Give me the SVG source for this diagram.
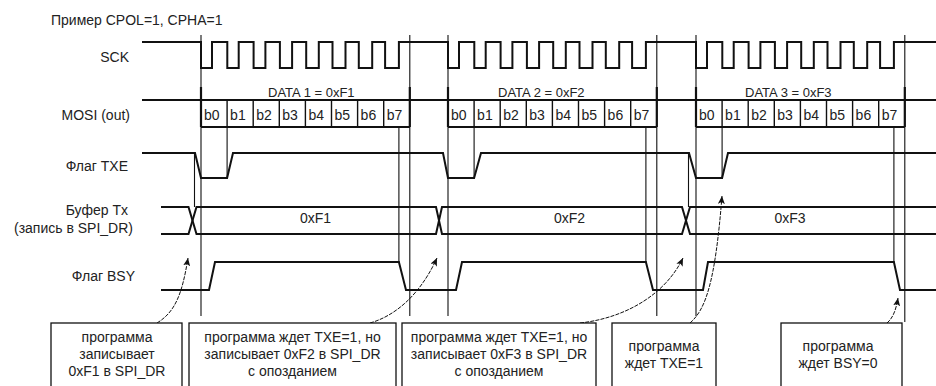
<svg xmlns="http://www.w3.org/2000/svg" width="936" height="386" viewBox="0 0 936 386">
<style>
text{font-family:"Liberation Sans",Arial,sans-serif;fill:#222;font-size:14px}
.lbl{text-anchor:end}
.mid{text-anchor:middle}
.sig{fill:none;stroke:#111;stroke-width:2}
.thin{fill:none;stroke:#111;stroke-width:1.1}
.div{fill:none;stroke:#111;stroke-width:1.4}
.bnd{fill:none;stroke:#111;stroke-width:2.2}
.box{fill:#fff;stroke:#111;stroke-width:1.3}
.arr{fill:none;stroke:#111;stroke-width:1;stroke-dasharray:4 1.2}
.dt{font-size:13px}
</style>
<defs>
<marker id="ah" markerUnits="userSpaceOnUse" markerWidth="9" markerHeight="7" refX="8" refY="3.5" orient="auto">
<path d="M0,0 L8,3.5 L0,7 L2,3.5 z" fill="#111"/>
</marker>
</defs>
<rect width="936" height="386" fill="#fff"/>

<text x="51" y="25">Пример CPOL=1, CPHA=1</text>

<g id="labels">
<text class="lbl" x="129" y="62">SCK</text>
<text class="lbl" x="130" y="120">MOSI (out)</text>
<text class="lbl" x="128" y="171">Флаг TXE</text>
<text class="lbl" x="128" y="215">Буфер Tx</text>
<text class="lbl" x="133" y="233">(запись в SPI_DR)</text>
<text class="lbl" x="135" y="281">Флаг BSY</text>
</g>

<g id="guides">
<path class="thin" d="M201,35 V316 M409.8,35 V316 M448,35 V316 M656.8,35 V316 M696,35 V316 M904.8,35 V322"/>
<path class="thin" d="M227.1,127 V178 M474.1,127 V178 M722.1,127 V178"/>
<path class="thin" d="M398.9,127 V262 M645.9,127 V262 M893.9,127 V262"/>
<path class="thin" d="M194.5,153 V207 M688.5,153 V207"/>
</g>

<g id="sck">
<path class="sig" d="M142,42 H201 V68 H212 V42 H227.3 V68 H238.7 V42 H253.6 V68 H265.4 V42 H279.9 V68 H292.1 V42 H306.2 V68 H318.8 V42 H332.5 V68 H345.5 V42 H358.8 V68 H372.2 V42 H385.1 V68 H398.9 V42 H448 V68 H459 V42 H474.3 V68 H485.7 V42 H500.6 V68 H512.4 V42 H526.9 V68 H539.1 V42 H553.2 V68 H565.8 V42 H579.5 V68 H592.5 V42 H605.8 V68 H619.2 V42 H632.1 V68 H645.9 V42 H696 V68 H707 V42 H722.3 V68 H733.7 V42 H748.6 V68 H760.4 V42 H774.9 V68 H787.1 V42 H801.2 V68 H813.8 V42 H827.5 V68 H840.5 V42 H853.8 V68 H867.2 V42 H880.1 V68 H893.9 V42 H936"/>
</g>

<g id="mosi">
<path class="sig" d="M142,100 H936 M201,127 H409.8 M448,127 H656.8 M696,127 H904.8"/>
<path class="bnd" d="M201,87 V127 M409.8,87 V127 M448,87 V127 M656.8,87 V127 M696,87 V127 M904.8,87 V127"/>
<path class="div" d="M227.1,100 V127 M253.2,100 V127 M279.3,100 V127 M305.4,100 V127 M331.5,100 V127 M357.6,100 V127 M383.7,100 V127
M474.1,100 V127 M500.2,100 V127 M526.3,100 V127 M552.4,100 V127 M578.5,100 V127 M604.6,100 V127 M630.7,100 V127
M722.1,100 V127 M748.2,100 V127 M774.3,100 V127 M800.4,100 V127 M826.5,100 V127 M852.6,100 V127 M878.7,100 V127"/>
<text class="dt" x="268" y="97">DATA 1 = 0xF1</text>
<text class="dt" x="498" y="97">DATA 2 = 0xF2</text>
<text class="dt" x="745" y="97">DATA 3 = 0xF3</text>
<text x="204" y="120">b0</text><text x="230.1" y="120">b1</text><text x="256.2" y="120">b2</text><text x="282.3" y="120">b3</text><text x="308.4" y="120">b4</text><text x="334.5" y="120">b5</text><text x="360.6" y="120">b6</text><text x="386.7" y="120">b7</text>
<text x="451" y="120">b0</text><text x="477.1" y="120">b1</text><text x="503.2" y="120">b2</text><text x="529.3" y="120">b3</text><text x="555.4" y="120">b4</text><text x="581.5" y="120">b5</text><text x="607.6" y="120">b6</text><text x="633.7" y="120">b7</text>
<text x="699" y="120">b0</text><text x="725.1" y="120">b1</text><text x="751.2" y="120">b2</text><text x="777.3" y="120">b3</text><text x="803.4" y="120">b4</text><text x="829.5" y="120">b5</text><text x="855.6" y="120">b6</text><text x="881.7" y="120">b7</text>
</g>

<g id="txe">
<path class="sig" d="M142,153 H195 L201,178 H227.1 L233,153 H443 L448,178 H474.1 L481,153 H689 L696,178 H722.1 L728,153 H936"/>
</g>

<g id="buffer">
<path class="sig" d="M161,207 H188.5 L196.5,234 H436 L442,207 H682 L690,234 H936"/>
<path class="sig" d="M161,234 H188.5 L196.5,207 H436 L442,234 H682 L690,207 H936"/>
<text class="mid" x="315.5" y="223">0xF1</text>
<text class="mid" x="569.5" y="223">0xF2</text>
<text class="mid" x="790" y="223">0xF3</text>
</g>

<g id="bsy">
<path class="sig" d="M161,290 H209 L215,262 H398.9 L406,290 H456 L462,262 H645.9 L653,290 H703 L708,262 H893.9 L900,290 H936"/>
</g>

<g id="connectors">
<path class="arr" marker-end="url(#ah)" d="M157,323 C175,312 182,295 188,258"/>
<path class="arr" marker-end="url(#ah)" d="M370,323 C395,316 420,295 437,258"/>
<path class="arr" marker-end="url(#ah)" d="M580,323 C625,318 665,295 683,258"/>
<path class="arr" marker-end="url(#ah)" d="M690,323 C705,310 715,285 722,196"/>
<path class="arr" marker-end="url(#ah)" d="M887,323 C893,318 896,310 898,298"/>
</g>

<g id="box1">
<rect class="box" x="51" y="323" width="131" height="80"/>
<text class="mid" x="117" y="342">программа</text>
<text class="mid" x="117" y="359">записывает</text>
<text class="mid" x="117" y="376">0xF1 в SPI_DR</text>
</g>
<g id="box2">
<rect class="box" x="189" y="323" width="207" height="80"/>
<text class="mid" x="292.5" y="342">программа ждет TXE=1, но</text>
<text class="mid" x="292.5" y="359">записывает 0xF2 в SPI_DR</text>
<text class="mid" x="292.5" y="376">с опозданием</text>
</g>
<g id="box3">
<rect class="box" x="402" y="323" width="194" height="80"/>
<text class="mid" x="499" y="342">программа ждет TXE=1, но</text>
<text class="mid" x="499" y="359">записывает 0xF3 в SPI_DR</text>
<text class="mid" x="499" y="376">с опозданием</text>
</g>
<g id="box4">
<rect class="box" x="612" y="323" width="104" height="80"/>
<text class="mid" x="664" y="351">программа</text>
<text class="mid" x="664" y="368">ждет TXE=1</text>
</g>
<g id="box5">
<rect class="box" x="781" y="323" width="121" height="80"/>
<text class="mid" x="838" y="351">программа</text>
<text class="mid" x="838" y="368">ждет BSY=0</text>
</g>
</svg>
